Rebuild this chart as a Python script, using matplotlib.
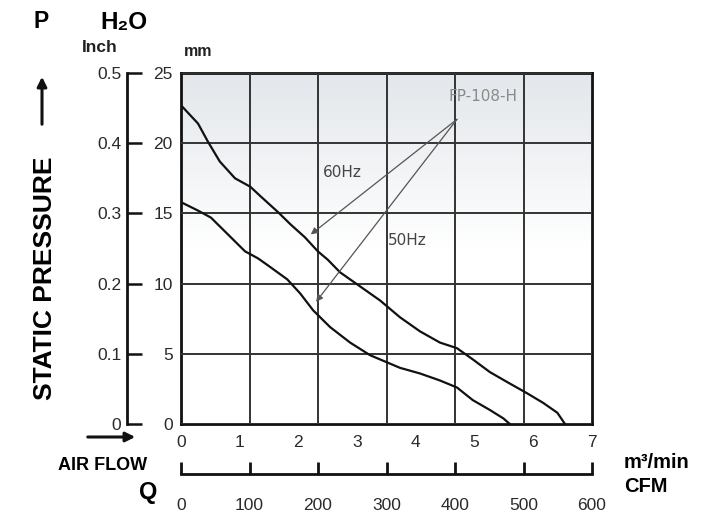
import numpy as np
import matplotlib
matplotlib.use('Agg')
import matplotlib.pyplot as plt

plt.rcParams['font.family'] = ['Liberation Sans', 'DejaVu Sans']

# air flow (m3/min) vs static pressure (mm H2O)
flow_60hz = [0, 0.29, 0.46, 0.66, 0.92, 1.18, 1.36, 1.65, 1.87, 2.11, 2.33, 2.50, 2.71,
             3.05, 3.39, 3.73, 4.07, 4.41, 4.70, 4.97, 5.26, 5.55, 5.89, 6.17, 6.41, 6.54]
press_60hz = [22.7, 21.4, 20.1, 18.7, 17.5, 16.9, 16.2, 15.1, 14.2, 13.3, 12.3, 11.7, 10.8,
              9.8, 8.8, 7.6, 6.6, 5.8, 5.4, 4.6, 3.7, 3.0, 2.2, 1.5, 0.8, 0.0]
flow_50hz = [0, 0.29, 0.51, 0.80, 1.09, 1.31, 1.48, 1.81, 2.03, 2.25, 2.54, 2.88, 3.22,
             3.56, 3.73, 4.07, 4.41, 4.70, 4.97, 5.26, 5.49, 5.60]
press_50hz = [15.8, 15.2, 14.7, 13.5, 12.3, 11.8, 11.3, 10.3, 9.3, 8.1, 6.9, 5.8, 4.9,
              4.3, 4.0, 3.6, 3.1, 2.6, 1.7, 1.0, 0.4, 0.0]

mm_ticks = [0, 5, 10, 15, 20, 25]
inch_ticks = [0, 0.1, 0.2, 0.3, 0.4, 0.5]
inch_labels = ['0', '0.1', '0.2', '0.3', '0.4', '0.5']
m3_ticks = [0, 1, 2, 3, 4, 5, 6, 7]
cfm_ticks = [0, 100, 200, 300, 400, 500, 600]

W, H = 713, 515
def fx(x):
    return x / W
def fy(y):
    return 1 - y / H

fig = plt.figure(figsize=(7.13, 5.15), dpi=100)
fig.patch.set_facecolor('white')

left, right, top, bottom = 181, 592, 73, 424
ax = fig.add_axes([fx(left), fy(bottom), (right - left) / W, (bottom - top) / H])

# light grey shading at the top of the plot
grad = np.linspace(0, 1, 100).reshape(-1, 1)
cmap = matplotlib.colors.LinearSegmentedColormap.from_list('bg', ['#ffffff', '#ffffff', '#e3e7eb'])
ax.imshow(grad, extent=[0, 7, 0, 25], origin='lower', aspect='auto', cmap=cmap, zorder=0)

ax.set_xlim(0, 7)
ax.set_ylim(0, 25)
ax.set_xticks(m3_ticks)
ax.set_yticks(mm_ticks)
# grid follows the CFM scale
ax.set_xticks([c * 7 / 600 for c in cfm_ticks], minor=True)
ax.grid(True, which='minor', axis='x', color='#333333', lw=1.4)
ax.grid(True, which='major', axis='y', color='#333333', lw=1.4)
ax.set_axisbelow(False)
ax.tick_params(which='both', length=0)
ax.tick_params(axis='y', pad=6, labelsize=12.5, labelcolor='#2a2a2a')
ax.tick_params(axis='x', pad=8, labelsize=12.5, labelcolor='#2a2a2a')
for s in ax.spines.values():
    s.set_linewidth(2)
    s.set_color('#111111')

ax.plot(flow_60hz, press_60hz, color='#111111', lw=1.6, zorder=5, solid_joinstyle='round')
ax.plot(flow_50hz, press_50hz, color='#111111', lw=1.6, zorder=5, solid_joinstyle='round')

# model annotation
ax.text(4.55, 23.3, 'FP-108-H', fontsize=11, color='#8a8a8a', va='center', zorder=6,
        family='DejaVu Sans')
ax.text(2.42, 17.9, '60Hz', fontsize=11, color='#444444', va='center', zorder=6,
        family='DejaVu Sans')
ax.text(3.53, 13.1, '50Hz', fontsize=11, color='#444444', va='center', zorder=6,
        family='DejaVu Sans')
for tx, ty in [(2.21, 13.5), (2.30, 8.7)]:
    ax.annotate('', xy=(tx, ty), xytext=(4.70, 21.7),
                arrowprops=dict(arrowstyle='-|>', color='#555555', lw=0.9,
                                mutation_scale=10, shrinkA=0, shrinkB=0), zorder=6)

# inch scale
ax_in = fig.add_axes([fx(127), fy(bottom), 0.02, (bottom - top) / H])
ax_in.set_ylim(0, 0.5)
ax_in.set_yticks(inch_ticks)
ax_in.set_yticklabels(inch_labels)
ax_in.set_xticks([])
ax_in.patch.set_alpha(0)
for k in ['top', 'right', 'bottom']:
    ax_in.spines[k].set_visible(False)
ax_in.spines['left'].set_linewidth(2)
ax_in.spines['left'].set_color('#111111')
ax_in.tick_params(axis='y', direction='in', length=11, width=1.8, pad=4,
                  labelsize=12.5, labelcolor='#2a2a2a', color='#111111')

# CFM scale
ax_cfm = fig.add_axes([fx(left), fy(474), (right - left) / W, 0.0001])
ax_cfm.set_xlim(0, 600)
ax_cfm.set_xticks(cfm_ticks)
ax_cfm.set_yticks([])
ax_cfm.patch.set_alpha(0)
for k in ['top', 'right', 'left']:
    ax_cfm.spines[k].set_visible(False)
ax_cfm.spines['bottom'].set_linewidth(2)
ax_cfm.spines['bottom'].set_color('#111111')
ax_cfm.tick_params(axis='x', direction='in', length=9, width=2, pad=17,
                   labelsize=12.5, labelcolor='#2a2a2a', color='#111111')

# axis titles
fig.text(fx(41), fy(22), 'P', fontsize=16.5, fontweight='bold', ha='center', va='center')
fig.text(fx(124), fy(22), 'H₂O', fontsize=17.5, fontweight='bold', ha='center', va='center')
fig.text(fx(100), fy(48), 'Inch', fontsize=12.5, fontweight='bold', ha='center', va='center', color='#222222')
fig.text(fx(198), fy(52), 'mm', fontsize=11.5, fontweight='bold', ha='center', va='center', color='#222222')
fig.text(fx(45), fy(278), 'STATIC PRESSURE', fontsize=19, fontweight='bold', rotation=90,
         ha='center', va='center')
fig.text(fx(103), fy(466), 'AIR FLOW', fontsize=13, fontweight='bold', ha='center', va='center')
fig.text(fx(148), fy(492), 'Q', fontsize=17, fontweight='bold', ha='center', va='center')
fig.text(fx(624), fy(462), 'm³/min', fontsize=14.5, fontweight='bold', ha='left', va='center')
fig.text(fx(624), fy(487), 'CFM', fontsize=14.5, fontweight='bold', ha='left', va='center')

fig.add_artist(matplotlib.patches.FancyArrowPatch((fx(42), fy(127)), (fx(42), fy(74)),
               transform=fig.transFigure, arrowstyle='-|>', mutation_scale=14, lw=2.2, color='#111111'))
fig.add_artist(matplotlib.patches.FancyArrowPatch((fx(85), fy(437)), (fx(138), fy(437)),
               transform=fig.transFigure, arrowstyle='-|>', mutation_scale=14, lw=2.2, color='#111111'))

fig.savefig('out.png', dpi=100)
